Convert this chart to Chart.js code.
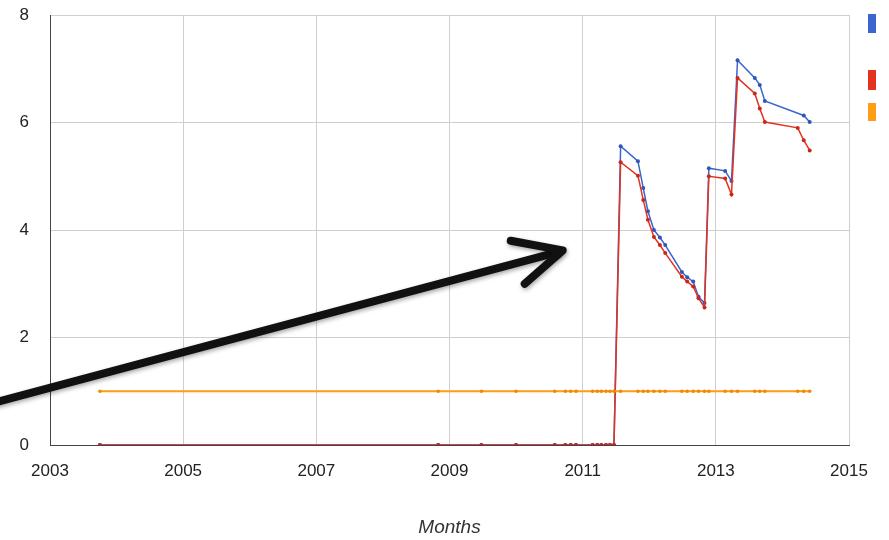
<!DOCTYPE html>
<html>
<head>
<meta charset="utf-8">
<script src="https://cdn.jsdelivr.net/npm/chart.js@4.4.1/dist/chart.umd.min.js"></script>
<style>
  html, body { margin: 0; padding: 0; background: #fff; overflow: hidden; }
  canvas { display: block; }
</style>
</head>
<body>
<canvas id="chart" width="889" height="540"></canvas>
<script>
// measurement dates (decimal years), shared by the red and orange series
var dates = [2003.75, 2008.83, 2009.48, 2010.0, 2010.58, 2010.74, 2010.82, 2010.9, 2011.15, 2011.22, 2011.28, 2011.35, 2011.41, 2011.47,
  2011.57, 2011.83, 2011.91, 2011.98, 2012.07, 2012.16, 2012.24, 2012.49, 2012.57, 2012.66, 2012.74, 2012.83, 2012.895, 2013.14, 2013.235,
  2013.326, 2013.585, 2013.66, 2013.736, 2014.23, 2014.32, 2014.41];
var redValues = [0, 0, 0, 0, 0, 0, 0, 0, 0, 0, 0, 0, 0, 0,
  5.26, 5.01, 4.56, 4.19, 3.87, 3.72, 3.57, 3.13, 3.04, 2.95, 2.73, 2.56, 5.0, 4.96, 4.66,
  6.83, 6.54, 6.26, 6.01, 5.9, 5.67, 5.48];
var orangeValues = [1, 1, 1, 1, 1, 1, 1, 1, 1, 1, 1, 1, 1, 1,
  1, 1, 1, 1, 1, 1, 1, 1, 1, 1, 1, 1, 1, 1, 1,
  1, 1, 1, 1, 1, 1, 1];

// blue series has no point at 2014.23
var blueDates = [2003.75, 2008.83, 2009.48, 2010.0, 2010.58, 2010.74, 2010.82, 2010.9, 2011.15, 2011.22, 2011.28, 2011.35, 2011.41, 2011.47,
  2011.57, 2011.83, 2011.91, 2011.98, 2012.07, 2012.16, 2012.24, 2012.49, 2012.57, 2012.66, 2012.74, 2012.83, 2012.895, 2013.14, 2013.235,
  2013.326, 2013.585, 2013.66, 2013.736, 2014.32, 2014.41];
var blueValues = [0, 0, 0, 0, 0, 0, 0, 0, 0, 0, 0, 0, 0, 0,
  5.56, 5.28, 4.78, 4.35, 4.0, 3.86, 3.72, 3.22, 3.12, 3.04, 2.76, 2.64, 5.15, 5.1, 4.91,
  7.16, 6.83, 6.7, 6.4, 6.13, 6.01];

var xTicks = [2003, 2005, 2007, 2009, 2011, 2013, 2015];
var yTicks = [0, 2, 4, 6, 8];

var colors = ['#3b66cf', '#e3321f', '#ff9d14'];
var dotColors = ['#2f57b8', '#c8281a', '#f08a00'];

function pairs(xs, ys) {
  return xs.map(function (x, i) { return { x: x, y: ys[i] }; });
}

// 凡例（右端で切れている色の四角）と矢印
var extras = {
  id: 'extras',
  afterDraw: function (chart) {
    var c = chart.ctx;
    var area = chart.chartArea;
    var sx = chart.scales.x, sy = chart.scales.y;

    // legend swatches
    var tops = [14, 70, 103];
    var hs = [19, 20, 18];
    for (var i = 0; i < 3; i++) {
      c.fillStyle = colors[i];
      c.fillRect(area.right + 19, tops[i], 8, hs[i]);
    }

    // arrow
    c.save();
    c.strokeStyle = '#111';
    c.lineWidth = 8;
    c.lineCap = 'round';
    c.lineJoin = 'round';
    c.shadowColor = 'rgba(0,0,0,0.35)';
    c.shadowBlur = 4;
    c.shadowOffsetX = 1;
    c.shadowOffsetY = 2;
    var tipX = sx.getPixelForValue(2010.7), tipY = sy.getPixelForValue(3.62);
    c.beginPath();
    c.moveTo(sx.getPixelForValue(2002.2), sy.getPixelForValue(0.8));
    c.lineTo(tipX - 6, tipY + 2);
    c.stroke();
    c.beginPath();
    c.moveTo(sx.getPixelForValue(2009.92), sy.getPixelForValue(3.8));
    c.lineTo(tipX, tipY);
    c.lineTo(sx.getPixelForValue(2010.13), sy.getPixelForValue(3.0));
    c.stroke();
    c.restore();
  }
};

var ctx = document.getElementById('chart');
new Chart(ctx, {
  type: 'line',
  data: {
    datasets: [
      { label: 'Blue', data: pairs(blueDates, blueValues), borderColor: colors[0], backgroundColor: dotColors[0],
        borderWidth: 1.5, pointRadius: 2, pointBorderWidth: 0, order: 2 },
      { label: 'Red', data: pairs(dates, redValues), borderColor: colors[1], backgroundColor: dotColors[1],
        borderWidth: 1.5, pointRadius: 2, pointBorderWidth: 0, order: 1 },
      { label: 'Orange', data: pairs(dates, orangeValues), borderColor: colors[2], backgroundColor: dotColors[2],
        borderWidth: 2, pointRadius: 1.8, pointBorderWidth: 0, order: 0 }
    ]
  },
  options: {
    responsive: false,
    animation: false,
    events: [],
    layout: { padding: { top: 0, right: 40, left: 0, bottom: 0 } },
    plugins: { legend: { display: false }, tooltip: { enabled: false } },
    scales: {
      x: {
        type: 'linear',
        min: 2003, max: 2015,
        afterBuildTicks: function (s) { s.ticks = xTicks.map(function (v) { return { value: v }; }); },
        afterFit: function (s) { s.height = 95; },
        ticks: {
          padding: 16, color: '#222', maxRotation: 0,
          font: { family: 'Liberation Sans, Arial, sans-serif', size: 17 },
          callback: function (v) { return String(v); }
        },
        grid: { color: '#cfcfcf', drawTicks: false },
        border: { color: '#444', width: 1 },
        title: {
          display: true, text: 'Months', color: '#333',
          font: { family: 'Liberation Sans, Arial, sans-serif', size: 19, style: 'italic' },
          padding: { top: 0, bottom: 1 }
        }
      },
      y: {
        min: 0, max: 8,
        afterBuildTicks: function (s) { s.ticks = yTicks.map(function (v) { return { value: v }; }); },
        afterFit: function (s) { s.width = 50; s.paddingTop = 15; s.paddingBottom = 10; },
        ticks: {
          padding: 21, color: '#222',
          font: { family: 'Liberation Sans, Arial, sans-serif', size: 17 }
        },
        grid: { color: '#cfcfcf', drawTicks: false },
        border: { color: '#444', width: 1 }
      }
    }
  },
  plugins: [extras]
});
</script>
</body>
</html>
